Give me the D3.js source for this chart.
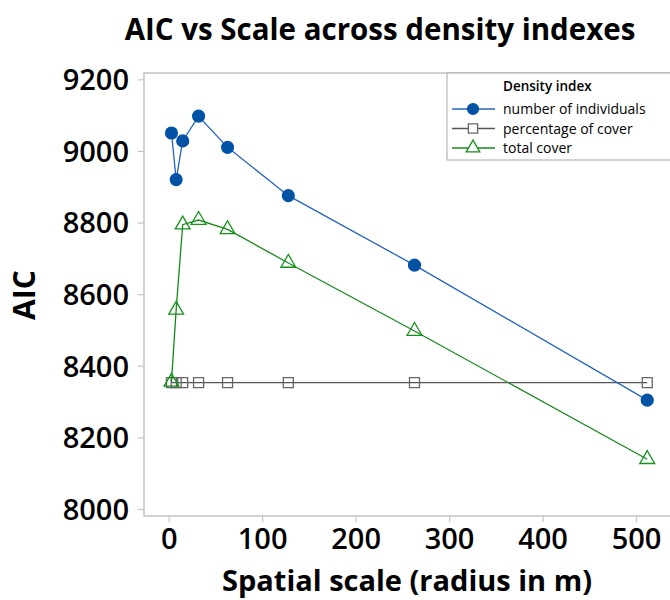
<!DOCTYPE html>
<html><head><meta charset="utf-8">
<script src="https://cdn.jsdelivr.net/npm/d3@7"></script>
<style>body{margin:0;background:#fff;overflow:hidden}svg{display:block}text{font-family:"Open Sans",sans-serif}</style>
</head><body>
<script>
const scales = [3, 8, 15, 32, 63, 128, 263, 512];
const numberOfIndividuals = [9050, 8920, 9028, 9097, 9010, 8875, 8681, 8304];
const percentageOfCover = [8353, 8353, 8353, 8353, 8353, 8353, 8353, 8353];
const totalCover = [8355, 8556, 8794, 8807, 8781, 8687, 8497, 8139];
const xTicks = [0, 100, 200, 300, 400, 500];
const yTicks = [8000, 8200, 8400, 8600, 8800, 9000, 9200];
const seriesNames = ["number of individuals", "percentage of cover", "total cover"];

const W = 670, H = 600;
const svg = d3.select("body").append("svg").attr("width", W).attr("height", H);
const L = 144, R = 685, T = 73, B = 516;
const x = d3.scaleLinear().domain([-26.4, -26.4 + (R - L) / 0.9347]).range([L, R]);
const y = d3.scaleLinear().domain([7980.4, 9217.6]).range([B, T]);
const axisCol = "#c4c4c4";

// frame
svg.append("path").attr("d", `M${R},${T}H${L}V${B}H${R}`).attr("fill", "none")
  .attr("stroke", axisCol).attr("stroke-width", 1.5);

// axes
const xAxis = svg.append("g").attr("transform", `translate(0,${B})`)
  .call(d3.axisBottom(x).tickValues(xTicks).tickSize(6).tickPadding(4).tickFormat(d3.format("d")));
const yAxis = svg.append("g").attr("transform", `translate(${L},0)`)
  .call(d3.axisLeft(y).tickValues(yTicks).tickSize(6).tickPadding(9).tickFormat(d3.format("d")));
[xAxis, yAxis].forEach(g => {
  g.select(".domain").remove();
  g.selectAll(".tick line").attr("stroke", axisCol).attr("stroke-width", 1.2);
  g.selectAll(".tick text").attr("fill", "#000").style("font-size", "29px")
    .style("font-family", '"Open Sans",sans-serif').style("font-weight", "600");
});
xAxis.selectAll(".tick text").attr("dy", null).attr("y", 33);
yAxis.selectAll(".tick text").attr("dy", "0.36em");

// titles
svg.append("text").attr("x", 380).attr("y", 40).attr("text-anchor", "middle")
  .style("font-size", "29.5px").style("font-weight", "700").text("AIC vs Scale across density indexes");
svg.append("text").attr("x", 407).attr("y", 591).attr("text-anchor", "middle")
  .style("font-size", "29px").style("font-weight", "700").text("Spatial scale (radius in m)");
svg.append("text").attr("transform", "translate(35,295) rotate(-90)").attr("text-anchor", "middle")
  .style("font-size", "30px").style("font-weight", "700").text("AIC");

const series = [
  {name: seriesNames[0], vals: numberOfIndividuals, line: "#2463c2", sym: d3.symbolCircle, size: 110, fill: "#0052a5", stroke: "#0052a5"},
  {name: seriesNames[1], vals: percentageOfCover, line: "#555555", sym: d3.symbolSquare, size: 100, fill: "none", stroke: "#666666"},
  {name: seriesNames[2], vals: totalCover, line: "#18891c", sym: d3.symbolTriangle, size: 95, fill: "none", stroke: "#14921a"}
];
const line = d3.line().x(d => x(d[0])).y(d => y(d[1]));
[1, 2, 0].forEach(i => {
  const s = series[i];
  const pts = scales.map((v, j) => [v, s.vals[j]]);
  svg.append("path").attr("d", line(pts)).attr("fill", "none").attr("stroke", s.line).attr("stroke-width", 1.3);
  svg.append("g").selectAll("path").data(pts).join("path")
    .attr("transform", d => `translate(${x(d[0])},${y(d[1])})`)
    .attr("d", d3.symbol().type(s.sym).size(s.size))
    .attr("fill", s.fill).attr("stroke", s.stroke).attr("stroke-width", 1.3);
});

// legend
const lg = svg.append("g");
lg.append("rect").attr("x", 447).attr("y", 73).attr("width", 240).attr("height", 87)
  .attr("fill", "#fff").attr("stroke", "#a8a8a8").attr("stroke-width", 1);
lg.append("text").attr("x", 503).attr("y", 91).style("font-size", "13.5px").style("font-weight", "600").text("Density index");
series.forEach((s, i) => {
  const cy = 109 + i * 19.5;
  lg.append("line").attr("x1", 452).attr("x2", 495).attr("y1", cy).attr("y2", cy).attr("stroke", s.line).attr("stroke-width", 1.3);
  lg.append("path").attr("transform", `translate(473,${cy})`).attr("d", d3.symbol().type(s.sym).size(s.size * 0.85))
    .attr("fill", s.fill === "none" ? "#fff" : s.fill).attr("stroke", s.stroke).attr("stroke-width", 1.3);
  lg.append("text").attr("x", 503).attr("y", cy + 5).style("font-size", "14px").text(s.name);
});
</script>
</body></html>
